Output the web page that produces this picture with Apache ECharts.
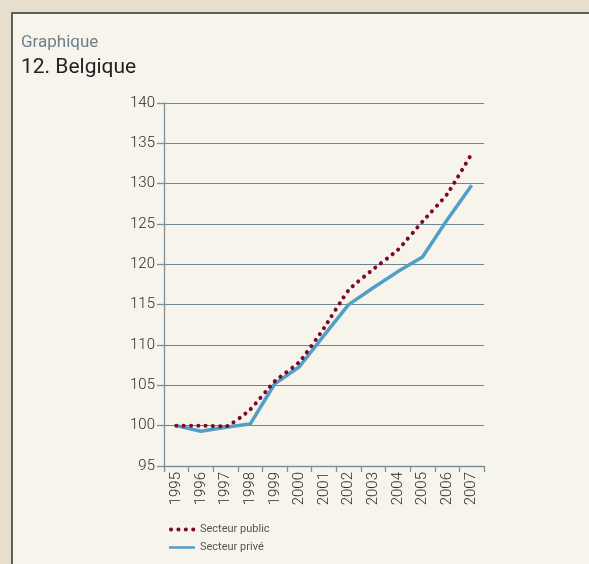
<!DOCTYPE html>
<html>
<head>
<meta charset="utf-8">
<script src="https://cdn.jsdelivr.net/npm/echarts@6/dist/echarts.min.js"></script>
<style>
  html, body { margin: 0; padding: 0; background: #e6dfcd; }
  #panel {
    position: absolute; left: 11px; top: 12px; width: 600px; height: 600px;
    background: #f7f4ec; border-left: 2px solid #5b5e5e; border-top: 2px solid #5b5e5e;
  }
  #chart { position: absolute; left: 0; top: 0; width: 589px; height: 564px; }
</style>
</head>
<body>
<div id="panel"></div>
<div id="chart"></div>
<script>
// index 1995 = 100
const years = ["1995", "1996", "1997", "1998", "1999", "2000", "2001",
  "2002", "2003", "2004", "2005", "2006", "2007"];
const secteurPublic = [100, 100, 99.9, 102, 105.5, 107.9, 112.1, 116.8, 119.4, 121.8, 125.3, 128.7, 133.7];
const secteurPrive = [100, 99.3, 99.8, 100.2, 105.2, 107.3, 111.2, 115, 117.1, 119.1, 120.9, 125.5, 129.8];

const font = "Roboto, 'Liberation Sans', sans-serif";
const axisColor = "#7d8f9b";
const publicColor = "#7b0a2a";
const priveColor = "#519fc6";

const chart = echarts.init(document.getElementById("chart"), null, { renderer: "canvas" });

chart.setOption({
  backgroundColor: "transparent",
  animation: false,
  title: {
    text: "Graphique",
    subtext: "12. Belgique",
    left: 16,
    top: 29,
    itemGap: 6,
    textStyle: { fontFamily: font, fontSize: 17, fontWeight: "normal", color: "#6d7f8b" },
    subtextStyle: { fontFamily: font, fontSize: 21, color: "#222" }
  },
  legend: {
    orient: "vertical",
    left: 162,
    top: 519,
    itemWidth: 26,
    itemHeight: 12,
    itemGap: 7,
    itemStyle: { opacity: 0 },
    textStyle: { fontFamily: font, fontSize: 11, color: "#555" },
    data: [
      { name: "Secteur public", lineStyle: { width: 4, type: [0.1, 7.3], cap: "round", dashOffset: -2 } },
      { name: "Secteur privé", lineStyle: { width: 2.5 } }
    ]
  },
  grid: { left: 164, right: 105, top: 103, bottom: 98 },
  xAxis: {
    type: "category",
    data: years,
    boundaryGap: true,
    axisLine: { lineStyle: { color: axisColor, width: 1.3 } },
    axisTick: { show: true, length: 6, lineStyle: { color: axisColor, width: 1.3 } },
    axisLabel: { rotate: 90, margin: 6, fontFamily: font, fontSize: 15, fontWeight: 300, color: "#2a2a2a" }
  },
  yAxis: {
    type: "value",
    min: 95,
    max: 140,
    interval: 5,
    axisLine: { show: true, lineStyle: { color: axisColor, width: 1.3 } },
    axisTick: { show: true, length: 7, lineStyle: { color: axisColor, width: 1.3 } },
    axisLabel: { margin: 9, fontFamily: font, fontSize: 15, fontWeight: 300, color: "#2a2a2a" },
    splitLine: { lineStyle: { color: "#6f8490", width: 1.2 } }
  },
  series: [
    {
      name: "Secteur public",
      type: "line",
      data: secteurPublic,
      smooth: 0.15,
      symbol: "none",
      z: 3,
      color: publicColor,
      lineStyle: { color: publicColor, width: 4, type: [0.1, 7.2], cap: "round" }
    },
    {
      name: "Secteur privé",
      type: "line",
      data: secteurPrive,
      symbol: "none",
      z: 2,
      color: priveColor,
      lineStyle: { color: priveColor, width: 3.5, join: "round" }
    }
  ]
});
</script>
</body>
</html>
